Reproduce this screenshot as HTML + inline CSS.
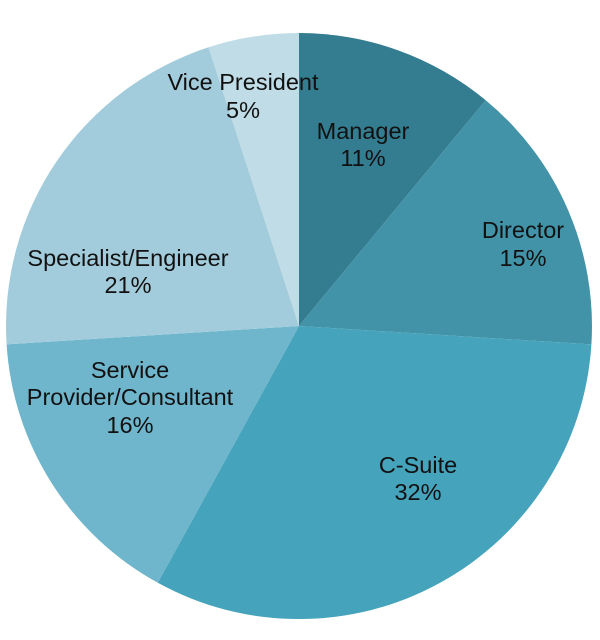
<!DOCTYPE html>
<html><head><style>body{margin:0;background:#fff}svg{display:block}text{font-family:"Liberation Sans",Arial,sans-serif;font-size:23.5px;fill:#111;text-anchor:middle}</style></head>
<body><svg width="600" height="640" viewBox="0 0 600 640">
<g transform="translate(299,326)">
<path d="M0,0 L0,-293 A293,293 0 0 1 186.7,-225.8 Z" fill="#347d91"/>
<path d="M0,0 L186.7,-225.8 A293,293 0 0 1 292.4,18.4 Z" fill="#4393a8"/>
<path d="M0,0 L292.4,18.4 A293,293 0 0 1 -141.2,256.8 Z" fill="#45a3bc"/>
<path d="M0,0 L-141.2,256.8 A293,293 0 0 1 -292.4,18.4 Z" fill="#6fb5cb"/>
<path d="M0,0 L-292.4,18.4 A293,293 0 0 1 -90.5,-278.7 Z" fill="#a2ccdb"/>
<path d="M0,0 L-90.5,-278.7 A293,293 0 0 1 0,-293 Z" fill="#c0dce6"/>
</g>
<text x="243" y="90">Vice President</text><text x="243" y="118">5%</text>
<text x="363" y="139">Manager</text><text x="363" y="166">11%</text>
<text x="523" y="238">Director</text><text x="523" y="266">15%</text>
<text x="128" y="266">Specialist/Engineer</text><text x="128" y="293">21%</text>
<text x="130" y="378">Service</text><text x="130" y="405">Provider/Consultant</text><text x="130" y="433">16%</text>
<text x="418" y="473">C-Suite</text><text x="418" y="500">32%</text>
</svg></body></html>
